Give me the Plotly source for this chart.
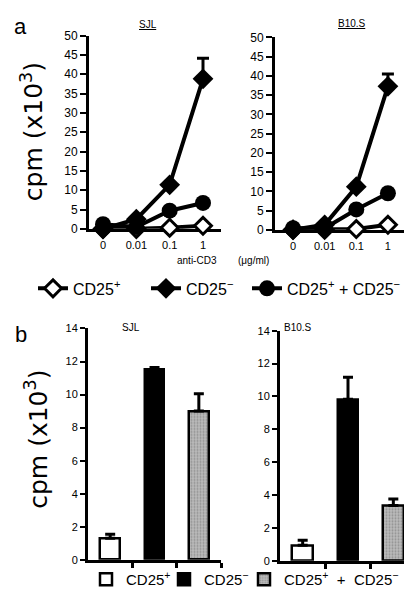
import plotly.graph_objects as go

# ---- data ----
doses = ["0", "0.01", "0.1", "1"]
xpos = [0, 1, 2, 3]

sjl_cd25p = [0.0, 0.0, 0.3, 0.8]
sjl_cd25m = [0.0, 2.5, 11.4, 38.8]
sjl_cd25m_err = [0, 0, 0, 5.3]
sjl_mix = [1.2, 0.5, 4.7, 6.7]

b10_cd25p = [0.0, 0.0, 0.2, 1.3]
b10_cd25m = [0.0, 1.3, 11.2, 37.3]
b10_cd25m_err = [0, 0, 0, 3.2]
b10_mix = [0.4, 0.4, 5.3, 9.5]

bar_groups = ["CD25<sup>+</sup>", "CD25<sup>−</sup>", "CD25<sup>+</sup>  +  CD25<sup>−</sup>"]
sjl_bar = [1.3, 11.55, 9.0]
sjl_bar_err = [0.25, 0.08, 1.05]
b10_bar = [0.95, 9.83, 3.36]
b10_bar_err = [0.3, 1.34, 0.4]

line_names = ["CD25<sup>+</sup>", "CD25<sup>−</sup>", "CD25<sup>+</sup> + CD25<sup>−</sup>"]

FONT = "Liberation Sans, Arial, sans-serif"
fig = go.Figure()

line_legends = ["legend", "legend3", "legend4"]
bar_legends = ["legend2", "legend5", "legend6"]

def add_lines(xa, ya, p, m, merr, mix, show):
    fig.add_trace(go.Scatter(
        x=xpos, y=p, xaxis=xa, yaxis=ya, mode="lines+markers", name=line_names[0],
        line=dict(color="black", width=4), cliponaxis=False, showlegend=show, legend=line_legends[0],
        marker=dict(symbol="diamond", size=13, color="white", line=dict(color="black", width=3))))
    fig.add_trace(go.Scatter(
        x=xpos, y=m, xaxis=xa, yaxis=ya, mode="lines+markers", name=line_names[1],
        line=dict(color="black", width=4), cliponaxis=False, showlegend=show, legend=line_legends[1],
        error_y=dict(type="data", symmetric=False, array=merr, arrayminus=[0]*4,
                     color="black", thickness=3, width=6),
        marker=dict(symbol="diamond", size=16, color="black")))
    fig.add_trace(go.Scatter(
        x=xpos, y=mix, xaxis=xa, yaxis=ya, mode="lines+markers", name=line_names[2],
        line=dict(color="black", width=4), cliponaxis=False, showlegend=show, legend=line_legends[2],
        marker=dict(symbol="circle", size=16, color="black")))

add_lines("x", "y", sjl_cd25p, sjl_cd25m, sjl_cd25m_err, sjl_mix, True)
add_lines("x2", "y2", b10_cd25p, b10_cd25m, b10_cd25m_err, b10_mix, False)

bar_styles = [
    dict(color="white", line=dict(color="black", width=2.5)),
    dict(color="black", line=dict(color="black", width=2.5)),
    dict(color="#b0b0b0", line=dict(color="black", width=2.5),
         pattern=dict(shape=".", fgcolor="#666666", bgcolor="#bbbbbb", size=3, solidity=0.35)),
]

def add_bars(xa, ya, vals, errs, show):
    for i in range(3):
        fig.add_trace(go.Bar(
            x=[i], y=[vals[i]], xaxis=xa, yaxis=ya, width=0.45, name=bar_groups[i],
            marker=bar_styles[i], showlegend=show, legend=bar_legends[i], cliponaxis=False,
            error_y=dict(type="data", symmetric=False, array=[errs[i]], arrayminus=[0],
                         color="black", thickness=3, width=5)))

add_bars("x3", "y3", sjl_bar, sjl_bar_err, True)
add_bars("x4", "y4", b10_bar, b10_bar_err, False)

axis_common = dict(showline=True, linewidth=3, linecolor="black", showgrid=False,
                   zeroline=False, layer="below traces", fixedrange=True)

ytop = dict(axis_common, range=[0, 50], tickvals=list(range(0, 51, 5)), ticks="outside",
            ticklen=6, tickwidth=2, tickcolor="black",
            tickfont=dict(family=FONT, size=12, color="black"))
xtop = dict(axis_common, tickvals=xpos, ticktext=doses, ticks="",
            ticklabelstandoff=4, tickfont=dict(family=FONT, size=11, color="black"))

ybot = dict(axis_common, range=[0, 14], tickvals=list(range(0, 15, 2)), ticks="outside",
            ticklen=5, tickwidth=2, tickcolor="black",
            tickfont=dict(family=FONT, size=11, color="black"))
xbot = dict(axis_common, range=[-0.5, 2.5], tickvals=[0.5, 1.5, 2.5], ticktext=["", "", ""],
            ticks="outside", ticklen=5, tickwidth=3, tickcolor="black")

def leg(xpx, ypx, size):
    return dict(orientation="h", x=xpx / 412, y=1 - ypx / 595, xanchor="left", yanchor="middle",
                font=dict(family=FONT, size=size, color="black"), itemwidth=30,
                bgcolor="rgba(0,0,0,0)")

fig.update_layout(
    width=412, height=595, margin=dict(l=0, r=0, t=0, b=0),
    paper_bgcolor="white", plot_bgcolor="rgba(0,0,0,0)",
    font=dict(family=FONT, color="black"),
    xaxis=dict(xtop, domain=[81 / 412, 213 / 412], range=[-0.42, 3.54], anchor="y"),
    yaxis=dict(ytop, domain=[0.6319, 0.9647], anchor="x"),
    xaxis2=dict(xtop, domain=[267 / 412, 397 / 412], range=[-0.57, 3.54], anchor="y2"),
    yaxis2=dict(ytop, domain=[0.6303, 0.9613], anchor="x2"),
    xaxis3=dict(xbot, domain=[0.1942, 0.5170], anchor="y3"),
    yaxis3=dict(ybot, domain=[0.0622, 0.4605], anchor="x3"),
    xaxis4=dict(xbot, domain=[0.6602, 0.9903], anchor="y4"),
    yaxis4=dict(ybot, domain=[0.0605, 0.4566], anchor="x4"),
    legend=leg(25, 280, 16),
    legend3=leg(138, 280, 16),
    legend4=leg(239, 280, 16),
    legend2=leg(78, 578, 15),
    legend5=leg(156, 578, 15),
    legend6=leg(236, 578, 15),
    bargap=0,
)

ann = [
    dict(text="a", x=4 / 412, y=1 - 12 / 595, size=22, xa="left"),
    dict(text="b", x=5 / 412, y=1 - 327 / 595, size=22, xa="left"),
    dict(text="<u>SJL</u>", x=140 / 412, y=1 - 10 / 595, size=10, xa="center"),
    dict(text="<u>B10.S</u>", x=344 / 412, y=1 - 9 / 595, size=10, xa="center"),
    dict(text="SJL", x=123 / 412, y=1 - 320 / 595, size=10, xa="center"),
    dict(text="B10.S", x=290 / 412, y=1 - 320 / 595, size=10, xa="center"),
    dict(text="anti-CD3", x=189 / 412, y=1 - 251 / 595, size=10, xa="center"),
    dict(text="(μg/ml)", x=246 / 412, y=1 - 251 / 595, size=10, xa="center"),
]
for a in ann:
    fig.add_annotation(text=a["text"], x=a["x"], y=a["y"], xref="paper", yref="paper",
                       xanchor=a["xa"], yanchor="middle", showarrow=False,
                       font=dict(family=FONT, size=a["size"], color="black"))

for yy, xx in [(120, 24), (435, 29)]:
    fig.add_annotation(text="cpm (x10<sup>3</sup>)", x=xx / 412, y=1 - yy / 595,
                       xref="paper", yref="paper", textangle=-90, showarrow=False,
                       xanchor="center", yanchor="middle",
                       font=dict(family="DejaVu Sans, sans-serif", size=25, color="black"))

fig.write_html("out.html")
